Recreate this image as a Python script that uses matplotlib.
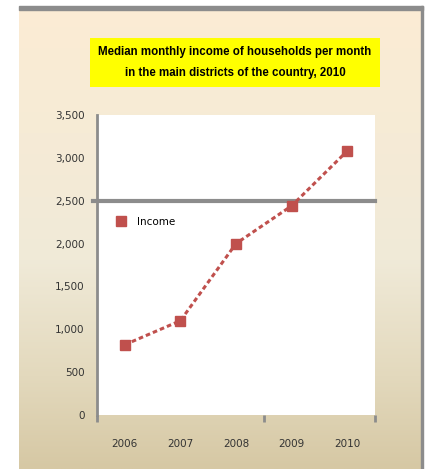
import numpy as np
import matplotlib.pyplot as plt
from matplotlib.patches import Rectangle
from matplotlib.colors import LinearSegmentedColormap

years = ['2006', '2007', '2008', '2009', '2010']
income = [820, 1100, 2000, 2440, 3080]
y_ticks = [0, 500, 1000, 1500, 2000, 2500, 3000, 3500]
ref_value = 2500
title = 'Median monthly income of households per month\nin the main districts of the country, 2010'

W, H = 427, 469
fig = plt.figure(figsize=(W / 100, H / 100), dpi=100)
fig.patch.set_facecolor('white')

# gradient panel behind everything
bg = fig.add_axes([19 / W, 0, (421 - 19) / W, 1 - 6 / H], zorder=0)
cmap = LinearSegmentedColormap.from_list(
    'panel', [(0, '#fcecd4'), (0.55, '#f0ead8'), (0.8, '#e3d9bd'), (1, '#d6c8a4')])
grad = np.linspace(0, 1, 256).reshape(-1, 1)
bg.imshow(grad, aspect='auto', cmap=cmap, extent=[0, 1, 0, 1])
bg.set_xlim(0, 1)
bg.set_ylim(0, 1)
bg.axis('off')
fig.add_artist(Rectangle((19 / W, 1 - 10 / H), (423 - 19) / W, 4 / H,
                         transform=fig.transFigure, color='#8c8c8c', zorder=1))
fig.add_artist(Rectangle((421 / W, 0), 2.5 / W, 1 - 6 / H,
                         transform=fig.transFigure, color='#8c8c8c', zorder=1))

ax = fig.add_axes([97 / W, 1 - 415 / H, (375 - 97) / W, (415 - 115) / H], zorder=2)
ax.set_facecolor('white')
x = np.arange(len(years))
ax.plot(x, income, color='#c0504d', linestyle=(0, (1.5, 1.0)), linewidth=2.2,
        marker='s', markersize=7.5, label='Income', clip_on=False)
ax.set_xlim(-0.5, len(years) - 0.5)
ax.set_ylim(0, 3500)
ax.set_yticks(y_ticks)
ax.set_yticklabels([f'{v:,}' for v in y_ticks], fontsize=7.5, color='#333333')
ax.tick_params(axis='y', length=0, pad=9)
ax.set_xticks(x)
ax.set_xticklabels(years, fontsize=7.5, color='#333333')
ax.tick_params(axis='x', length=0, pad=17)
ax.set_xticks([-0.5, 2.5, 4.5], minor=True)
ax.tick_params(axis='x', which='minor', length=5, width=2, color='#8c8c8c')
for s in ['top', 'right', 'bottom']:
    ax.spines[s].set_visible(False)
ax.spines['left'].set_color('#8c8c8c')
ax.spines['left'].set_linewidth(2)
ax.axhline(ref_value, xmin=-0.015, xmax=1, color='#8c8c8c', linewidth=3,
           clip_on=False, zorder=1)
ax.legend(loc='center left', bbox_to_anchor=(0.05, 0.643), frameon=False,
          fontsize=7.5, handlelength=1.0, handletextpad=1.0, borderpad=0)
leg = ax.get_legend()
leg.get_lines()[0].set_linestyle('none')

fig.text(235 / W, 1 - 62.5 / H, title, ha='center', va='center', fontsize=8.3,
         fontweight='bold', linespacing=1.9, family=['Liberation Sans', 'DejaVu Sans'],
         bbox=dict(boxstyle='square,pad=0.75', facecolor='#ffff00', edgecolor='none'),
         zorder=3)

fig.savefig('out.png', dpi=100)
